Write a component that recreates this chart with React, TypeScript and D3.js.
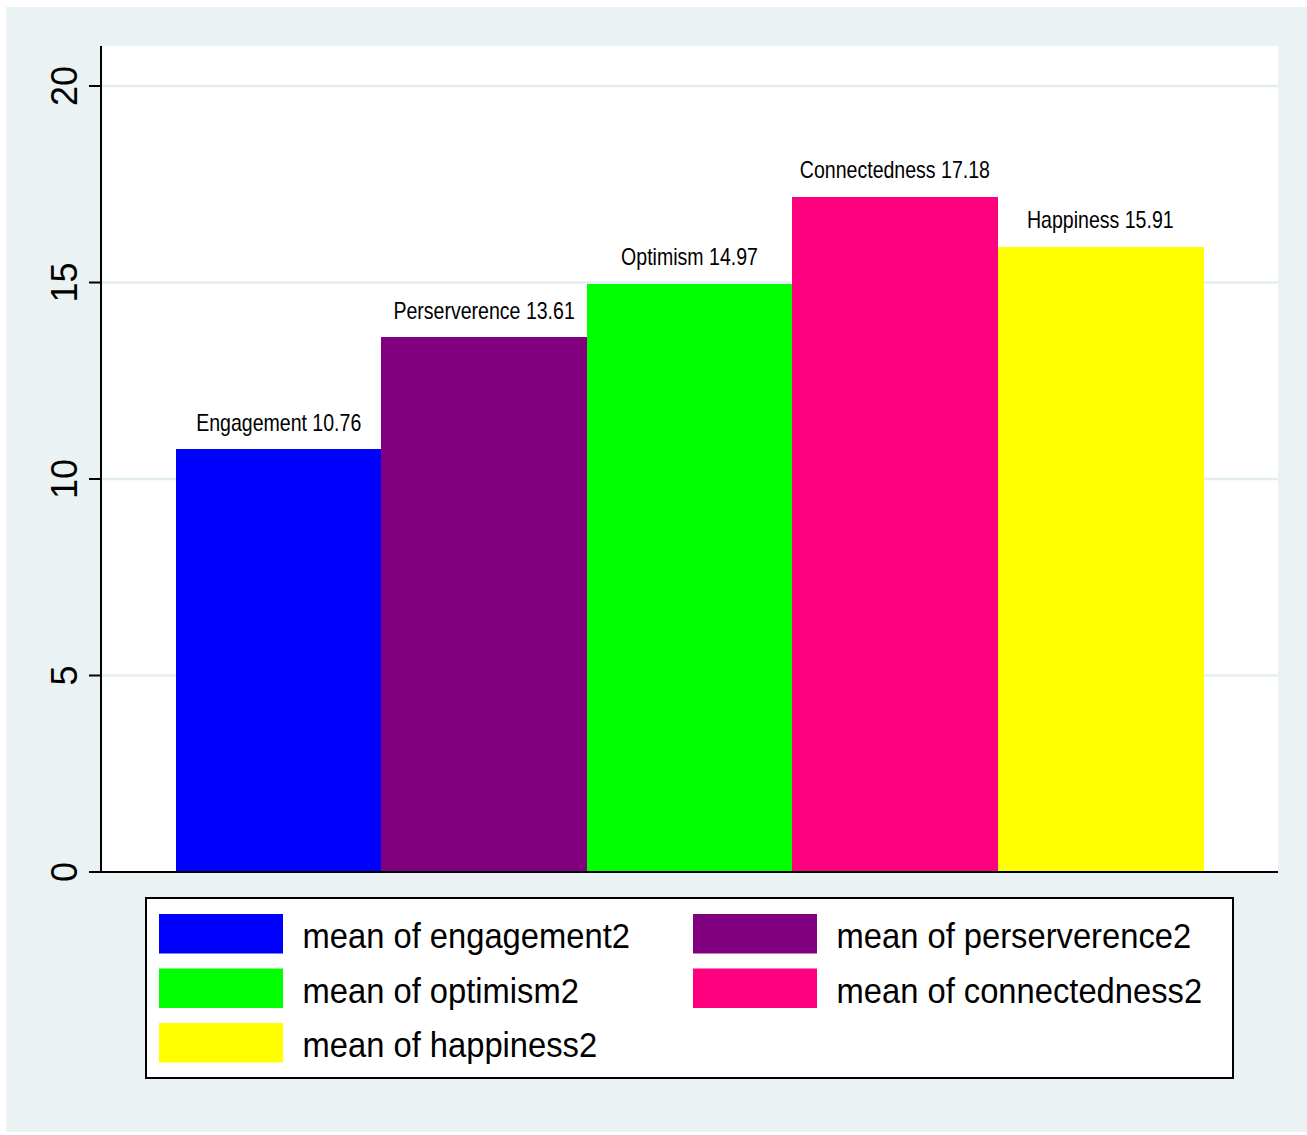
import React from "react";
import * as d3 from "d3";

const categories = ["Engagement", "Perserverence", "Optimism", "Connectedness", "Happiness"];
const values = [10.76, 13.61, 14.97, 17.18, 15.91];
const colors = ["#0000FF", "#800080", "#00FF00", "#FF007F", "#FFFF00"];
const legendLabels = [
  "mean of engagement2",
  "mean of perserverence2",
  "mean of optimism2",
  "mean of connectedness2",
  "mean of happiness2",
];
const yTicks = [0, 5, 10, 15, 20];

const W = 1307;
const H = 1135;

export default function App() {
  const plotLeft = 101;
  const plotRight = 1278;
  const plotTop = 46;
  const y = d3.scaleLinear().domain([0, 20]).range([872, 86]);
  const x = d3.scaleBand<string>().domain(categories).range([176, 1203]).padding(0);

  // legend layout
  const legX = 146, legY = 898, legW = 1087, legH = 180;
  const colX = [159, 693];
  const rowY = [914, 968.5, 1023];

  return (
    <svg
      width={W}
      height={H}
      style={{ position: "absolute", left: 0, top: 0, display: "block" }}
      fontFamily="'Liberation Sans', Arial, sans-serif"
    >
      <rect x={0} y={0} width={W} height={H} fill="#ffffff" />
      <rect x={6} y={7} width={W - 6} height={1132 - 7} fill="#EAF2F3" />
      <rect x={plotLeft} y={plotTop} width={plotRight - plotLeft} height={y(0) - plotTop} fill="#ffffff" />

      {/* gridlines */}
      {yTicks.filter((t) => t > 0).map((t) => (
        <line key={"g" + t} x1={plotLeft} x2={plotRight} y1={y(t)} y2={y(t)} stroke="#E4EEF0" strokeWidth={2.5} />
      ))}

      {/* bars */}
      {categories.map((c, i) => (
        <rect
          key={c}
          x={x(c)!}
          y={y(values[i])}
          width={x.bandwidth() + 0.5}
          height={y(0) - y(values[i])}
          fill={colors[i]}
          shapeRendering="crispEdges"
        />
      ))}

      {/* bar labels */}
      {categories.map((c, i) => (
        <text
          key={"l" + c}
          transform={`translate(${x(c)! + x.bandwidth() / 2},${y(values[i]) - 18.5}) scale(0.85,1)`}
          textAnchor="middle"
          fontSize={23}
          fill="#000"
        >
          {`${c} ${values[i].toFixed(2)}`}
        </text>
      ))}

      {/* axes */}
      <line x1={plotLeft} x2={plotLeft} y1={plotTop} y2={y(0) + 1} stroke="#000" strokeWidth={2} />
      <line x1={89} x2={plotRight} y1={y(0)} y2={y(0)} stroke="#000" strokeWidth={2} />
      {yTicks.map((t) => (
        <g key={"t" + t}>
          <line x1={89} x2={plotLeft} y1={y(t)} y2={y(t)} stroke="#000" strokeWidth={2} />
          <text
            transform={`translate(77,${y(t)}) rotate(-90)`}
            textAnchor="middle"
            fontSize={36}
            fill="#000"
          >
            {t}
          </text>
        </g>
      ))}

      {/* legend */}
      <rect x={legX} y={legY} width={legW} height={legH} fill="#ffffff" stroke="#000" strokeWidth={2} />
      {legendLabels.map((lab, i) => {
        const col = i % 2;
        const row = Math.floor(i / 2);
        const sx = colX[col];
        const sy = rowY[row];
        return (
          <g key={lab}>
            <rect x={sx} y={sy} width={124} height={39.5} fill={colors[i]} />
            <text
              transform={`translate(${sx + 143.5},${sy + 34}) scale(0.935,1)`}
              fontSize={35}
              fill="#000"
            >
              {lab}
            </text>
          </g>
        );
      })}
    </svg>
  );
}
